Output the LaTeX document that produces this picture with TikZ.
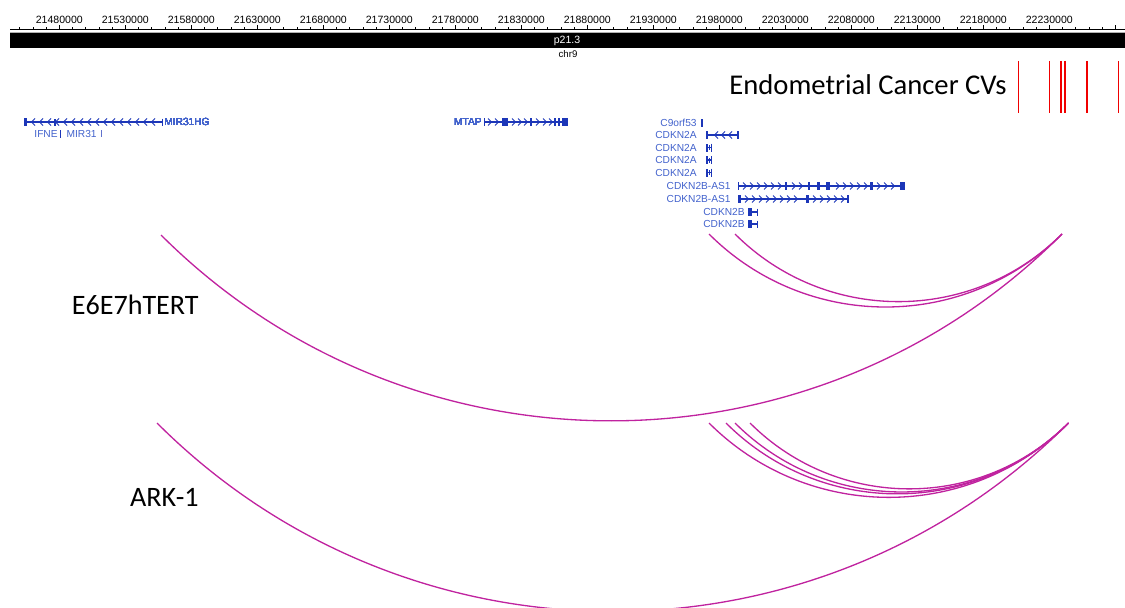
\documentclass[tikz,border=0pt]{standalone}
\usepackage{fontspec}
\setmainfont{Liberation Sans}
\newfontfamily\calibri{Carlito}
\usetikzlibrary{positioning}
\definecolor{linkmag}{HTML}{C0239F}
\definecolor{geneblue}{HTML}{1C36B8}
\definecolor{genetext}{HTML}{4262CC}
\definecolor{cvred}{HTML}{F00000}
\tikzset{
  rulerlabel/.style={font=\fontsize{6}{7}\selectfont, inner sep=0pt, anchor=base},
  genelabel/.style={font=\fontsize{5.8}{6.5}\selectfont, text=genetext,
    inner sep=0pt, anchor=east},
  strand/.style={draw=geneblue, line width=0.6pt},
  chev/.style={draw=geneblue, line width=0.5pt},
  linkarc/.style={draw=linkmag, line width=0.75pt},
  cvline/.style={draw=cvred, line width=#1},
  cvline/.default=0.6pt,
  celllabel/.style={font=\calibri\fontsize{16}{18}\selectfont, inner sep=0pt},
}
\newcommand{\chevleft}[2]{\draw[chev] ({#1+2},{#2+3.5}) -- ({#1-1.5},{#2}) -- ({#1+2},{#2-3.5});}
\newcommand{\chevright}[2]{\draw[chev] ({#1-2},{#2+3.5}) -- ({#1+1.5},{#2}) -- ({#1-2},{#2-3.5});}
\begin{document}
\begin{tikzpicture}[x=0.02cm, y=0.02cm]
  \useasboundingbox (0,0) rectangle (1125,-608);
  % ruler
  \draw[line width=0.5pt] (10,-29) -- (1125,-29);
  \foreach \i in {-3,...,80} \draw[line width=0.4pt] ({59.3+13.2*\i},-29) -- ++(0,2);
  \foreach \k in {0,...,16} \draw[line width=0.5pt] ({59.3+66*\k},-29) -- ++(0,3.5);
  \foreach \k in {0,...,15} {
    \pgfmathtruncatemacro\pos{2148+5*\k}
    \node[rulerlabel] (tick\k) at ({59.3+66*\k},-23.3) {\pos0000};
  }
  % cytoband
  \fill[black] (10,-33.3) rectangle (1125,-47.7);
  \draw[gray!60, line width=0.4pt] (10,-32.6) -- (1125,-32.6);
  \node[font=\fontsize{6}{7}\selectfont, text=white, inner sep=0pt] (band) at (567,-40.5) {p21.3};
  \node[font=\fontsize{5.5}{6}\selectfont, inner sep=0pt] (chrom) at (568,-54.5) {chr9};
  % CVs
  \node[celllabel, anchor=west, font=\calibri\fontsize{16.3}{18}\selectfont] (cvtitle) at (729,-85) {Endometrial Cancer CVs};
  \foreach \x in {1018.3,1049.3,1061,1118.3} \draw[cvline] (\x,-61) -- (\x,-113);
  \foreach \x in {1064.7,1087.3} \draw[cvline=1.2pt] (\x,-61) -- (\x,-113);
  % MIR31HG, IFNE, MIR31
  \draw[strand] (25,-122) -- (163,-122);
  \fill[geneblue] (24,-118) rectangle (27,-126);
  \fill[geneblue] (54,-118.5) rectangle (56,-125.5);
  \draw[strand] (162.5,-118.5) -- (162.5,-125.5);
  \foreach \x in {33,41,...,158} \chevleft{\x}{-122}
  \node[genelabel, anchor=west] (mir31hg) at (164,-122) {MIR31HG};
  \node[genelabel] (ifne) at (58,-134) {IFNE};
  \fill[geneblue] (59.5,-130) rectangle (61,-137.5);
  \node[genelabel] (mir31) at (97,-134) {MIR31};
  \draw[geneblue!70, line width=0.5pt] (101,-130) -- (101,-137);
  % MTAP
  \draw[strand] (484,-122) -- (568,-122);
  \draw[strand] (484.5,-118) -- (484.5,-126);
  \foreach \x in {503,505,507,531,555,559} \draw[strand] (\x,-118) -- (\x,-126);
  \fill[geneblue] (562,-118) rectangle (568,-126);
  \foreach \x in {490,497,514,520,526,538,545,551} \chevright{\x}{-122}
  \node[genelabel] (mtap) at (482,-122) {MTAP};
  % C9orf53 and CDKN2A
  \node[genelabel] (c9orf) at (697,-123) {C9orf53};
  \draw[strand] (702,-119) -- (702,-127);
  \node[genelabel] (cdkn2a) at (697,-135) {CDKN2A};
  \draw[strand] (706,-135) -- (738,-135);
  \fill[geneblue] (705.5,-131) rectangle (707.5,-139);
  \foreach \x in {716,723,730} \chevleft{\x}{-135}
  \draw[strand] (738,-131) -- (738,-139);
  \foreach \y [count=\i] in {-147.5,-160,-172.5} {
    \node[genelabel] (cdkn2a\i) at (697,\y) {CDKN2A};
    \draw[strand] (706,\y) -- (712,\y);
    \fill[geneblue] (705.5,\y+4) rectangle (707.5,\y-4);
    \fill[geneblue] (709,\y+2.5) rectangle (710,\y-2.5);
    \draw[strand] (711.5,\y+4) -- (711.5,\y-4);
  }
  % CDKN2B-AS1
  \node[genelabel] (as1) at (731,-186) {CDKN2B-AS1};
  \draw[strand] (738,-186) -- (905,-186);
  \draw[strand] (738.5,-182) -- (738.5,-190);
  \foreach \x in {745,752,...,780,794,801,838,845,...,866,879,886,893} \chevright{\x}{-186}
  \foreach \a/\b in {785/787,808/810,817/820,826/830,870/873,900/905}
    \fill[geneblue] (\a,-182) rectangle (\b,-190);
  \node[genelabel] (as1b) at (731,-199) {CDKN2B-AS1};
  \draw[strand] (738,-199) -- (848,-199);
  \fill[geneblue] (738,-195) rectangle (741,-203);
  \fill[geneblue] (806,-195) rectangle (809,-203);
  \foreach \x in {747,754,...,802,815,822,...,843} \chevright{\x}{-199}
  \draw[strand] (848,-195) -- (848,-203);
  % CDKN2B
  \foreach \y [count=\i] in {-212,-224} {
    \node[genelabel] (cdkn2b\i) at (745,\y) {CDKN2B};
    \fill[geneblue] (748,\y+4) rectangle (752,\y-4);
    \draw[strand] (752,\y) -- (758,\y);
    \draw[strand] (757.5,\y+3.5) -- (757.5,\y-3.5);
  }
  % E6E7hTERT loops
  \node[celllabel, anchor=east] (e6) at (199,-305) {E6E7hTERT};
  \coordinate (tA) at (161,-235);
  \coordinate (tB) at (709,-234);
  \coordinate (tC) at (735,-234);
  \coordinate (tEnd) at (1062,-234);
  \foreach \c in {tA,tB,tC} \draw[linkarc] (\c) to[bend right=45] (tEnd);
  % ARK-1 loops
  \node[celllabel, anchor=east] (ark) at (199,-497.5) {ARK-1};
  \coordinate (bA) at (157,-423);
  \coordinate (bB) at (709,-423);
  \coordinate (bC) at (726,-423);
  \coordinate (bD) at (735,-423);
  \coordinate (bE) at (750,-423);
  \coordinate (bEnd) at (1068.5,-423);
  \foreach \c in {bA,bB,bC,bD,bE} \draw[linkarc] (\c) to[bend right=45] (bEnd);
\end{tikzpicture}
\end{document}
